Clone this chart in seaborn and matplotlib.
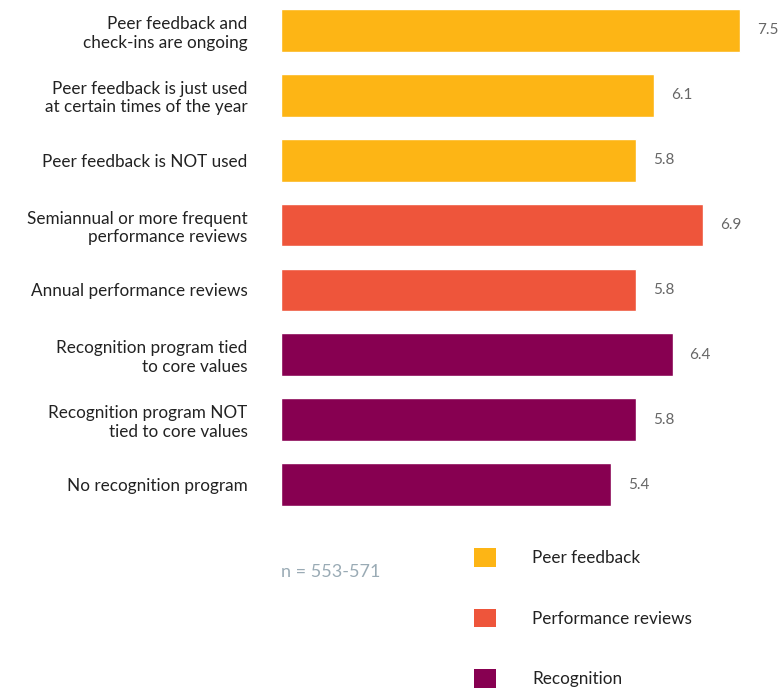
import matplotlib
matplotlib.use("Agg")
import matplotlib.pyplot as plt
from matplotlib.patches import Patch
import seaborn as sns
import pandas as pd

categories = [
    "Peer feedback and\ncheck-ins are ongoing",
    "Peer feedback is just used\nat certain times of the year",
    "Peer feedback is NOT used",
    "Semiannual or more frequent\nperformance reviews",
    "Annual performance reviews",
    "Recognition program tied\nto core values",
    "Recognition program NOT\ntied to core values",
    "No recognition program",
]
values = [7.5, 6.1, 5.8, 6.9, 5.8, 6.4, 5.8, 5.4]
groups = ["Peer feedback"] * 3 + ["Performance reviews"] * 2 + ["Recognition"] * 3
group_names = ["Peer feedback", "Performance reviews", "Recognition"]
colors = ["#FDB515", "#EE553B", "#870051"]
note = "n = 553-571"

sns.set_theme(style="white")
plt.rcParams["font.family"] = ["Lato", "DejaVu Sans"]

df = pd.DataFrame({"cat": categories, "val": values, "grp": groups})
palette = dict(zip(group_names, colors))

fig = plt.figure(figsize=(7.81, 6.96), dpi=100)
ax = fig.add_axes([281 / 781, 1 - 517 / 696, 500 / 781, 519 / 696])
sns.barplot(data=df, y="cat", x="val", hue="grp", palette=palette, dodge=False,
            width=0.66, saturation=1, legend=False, ax=ax, orient="h")
ax.set_xlim(0, 500 / 61.2)
ax.set_ylim(7.5, -0.5)
for c in ax.containers:
    ax.bar_label(c, fmt="%.1f", padding=12, color="#666666", fontsize=11)
ax.set_xlabel("")
ax.set_ylabel("")
ax.set_xticks([])
ax.tick_params(axis="y", length=0, pad=24, labelsize=12.3, labelcolor="#222222")
for s in ax.spines.values():
    s.set_visible(False)

fig.text(281 / 781, 1 - 572 / 696, note, color="#9AABB5", fontsize=13, va="center", ha="left")

handles = [Patch(facecolor=c, edgecolor="none") for c in colors]
fig.legend(handles, group_names, loc="upper left", bbox_to_anchor=(469 / 781, 1 - 543 / 696),
           frameon=False, fontsize=12.3, handlelength=1.3, handleheight=1.3,
           handletextpad=2.1, labelspacing=2.45, borderaxespad=0, borderpad=0.3,
           labelcolor="#222222")

fig.savefig("out.png", dpi=100)
